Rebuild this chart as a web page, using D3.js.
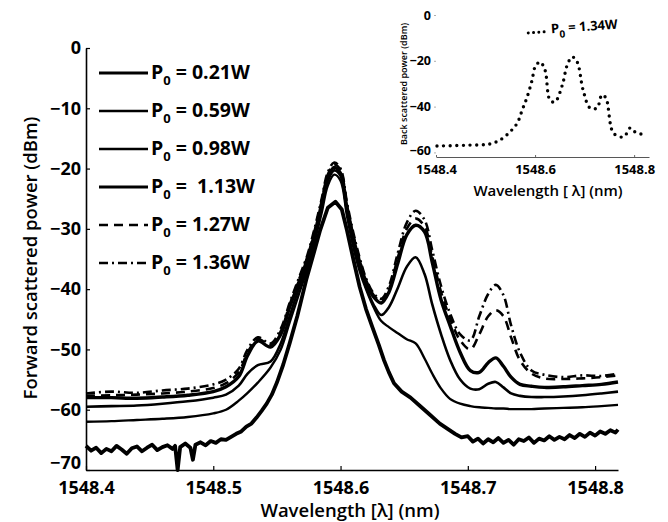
<!DOCTYPE html>
<html><head><meta charset="utf-8">
<script src="https://cdn.jsdelivr.net/npm/d3@7/dist/d3.min.js"></script>
<style>
body{margin:0;background:#fff}
svg text{font-family:"Open Sans",sans-serif;font-weight:700;fill:#000}
</style></head><body>
<svg id="c" width="668" height="522"></svg>
<script>
// ---- main chart data (wavelength in nm, power in dBm) ----
const wavelength = [1548.400,1548.420,1548.440,1548.460,1548.480,1548.500,1548.510,1548.520,1548.527,1548.535,1548.545,1548.553,1548.560,1548.567,1548.574,1548.580,1548.585,1548.590,1548.595,1548.600,1548.605,1548.610,1548.615,1548.620,1548.626,1548.632,1548.638,1548.645,1548.652,1548.659,1548.666,1548.672,1548.679,1548.686,1548.694,1548.702,1548.709,1548.716,1548.722,1548.728,1548.734,1548.741,1548.750,1548.760,1548.775,1548.790,1548.805,1548.818];
const p059 = [-62.0,-61.9,-61.7,-61.5,-61.2,-60.6,-60.0,-58.5,-57.2,-55.5,-53.0,-50.0,-45.5,-41.0,-36.5,-31.8,-27.5,-22.8,-21.0,-22.0,-27.8,-33.0,-37.0,-40.0,-43.0,-45.3,-46.3,-47.3,-48.3,-49.0,-51.5,-54.0,-56.5,-58.2,-59.0,-59.4,-59.6,-59.7,-59.8,-59.8,-59.9,-59.9,-59.9,-59.8,-59.7,-59.6,-59.4,-59.2];
const p098 = [-59.5,-59.4,-59.3,-59.0,-58.6,-58.0,-57.5,-56.0,-54.0,-52.6,-52.0,-49.0,-44.5,-40.0,-35.8,-31.0,-26.8,-22.0,-20.3,-21.2,-27.0,-32.0,-36.2,-39.6,-42.6,-44.3,-43.0,-39.8,-36.3,-34.7,-37.5,-42.5,-47.5,-51.7,-55.0,-56.5,-56.6,-55.7,-55.4,-56.3,-57.3,-57.7,-57.9,-57.9,-57.8,-57.6,-57.3,-57.0];
const p113 = [-58.0,-58.0,-58.1,-57.9,-57.6,-57.0,-56.2,-54.5,-51.0,-48.6,-49.6,-47.5,-43.0,-39.0,-35.0,-30.5,-26.0,-21.5,-19.8,-20.8,-26.5,-31.5,-35.5,-38.8,-41.3,-42.3,-40.5,-35.7,-31.0,-29.4,-30.5,-35.5,-41.8,-46.0,-50.5,-53.5,-53.8,-52.2,-51.4,-52.8,-54.6,-55.8,-56.1,-56.3,-56.2,-56.0,-55.8,-55.4];
const p127 = [-57.7,-57.6,-57.5,-57.3,-57.0,-56.4,-55.6,-53.8,-50.5,-48.3,-49.3,-47.0,-42.6,-38.6,-34.6,-30.0,-25.6,-21.0,-19.3,-20.3,-26.0,-31.0,-35.2,-38.5,-41.0,-42.0,-40.0,-34.8,-30.0,-28.3,-29.6,-34.5,-40.5,-44.8,-48.5,-50.0,-47.5,-44.5,-43.5,-44.5,-48.0,-51.8,-54.0,-54.8,-54.9,-54.8,-54.6,-54.3];
const p136 = [-57.3,-57.0,-57.2,-56.8,-56.5,-55.8,-55.0,-53.2,-50.0,-48.0,-49.0,-46.6,-42.3,-38.3,-34.3,-29.6,-25.2,-20.6,-19.0,-20.0,-25.6,-30.6,-34.8,-38.2,-40.7,-41.6,-39.5,-34.0,-29.0,-27.0,-28.5,-33.5,-39.5,-44.0,-47.5,-48.5,-44.5,-40.8,-39.3,-41.0,-46.0,-50.5,-53.5,-54.2,-54.6,-54.3,-54.4,-54.0];
// lowest power trace, noisy, read on its own finer grid
const wavelength021 = [1548.400,1548.404,1548.408,1548.412,1548.416,1548.420,1548.424,1548.428,1548.432,1548.436,1548.440,1548.444,1548.448,1548.452,1548.456,1548.460,1548.464,1548.468,1548.470,1548.472,1548.474,1548.478,1548.482,1548.484,1548.486,1548.490,1548.494,1548.498,1548.502,1548.506,1548.510,1548.514,1548.518,1548.522,1548.526,1548.530,1548.534,1548.538,1548.542,1548.546,1548.550,1548.555,1548.560,1548.566,1548.573,1548.579,1548.584,1548.590,1548.596,1548.601,1548.605,1548.610,1548.615,1548.620,1548.625,1548.630,1548.634,1548.638,1548.642,1548.648,1548.655,1548.662,1548.670,1548.678,1548.685,1548.690,1548.695,1548.700,1548.704,1548.708,1548.712,1548.716,1548.720,1548.724,1548.728,1548.732,1548.736,1548.740,1548.744,1548.748,1548.752,1548.756,1548.760,1548.764,1548.768,1548.772,1548.776,1548.780,1548.784,1548.788,1548.792,1548.796,1548.800,1548.804,1548.808,1548.812,1548.816,1548.818];
const p021 = [-66.0,-66.8,-66.3,-67.2,-66.5,-66.9,-66.0,-66.6,-67.3,-66.4,-66.1,-66.9,-66.3,-65.8,-66.7,-66.2,-65.9,-66.5,-66.0,-70.0,-66.2,-65.6,-66.3,-68.3,-65.8,-65.4,-65.9,-65.2,-65.5,-64.9,-65.0,-64.5,-64.0,-63.6,-62.8,-62.3,-61.3,-60.2,-59.0,-57.5,-55.5,-52.5,-49.0,-44.5,-38.5,-34.0,-30.2,-26.5,-25.5,-26.8,-30.2,-35.0,-39.6,-43.3,-46.3,-49.2,-51.7,-53.8,-55.6,-57.0,-58.0,-59.3,-60.8,-62.3,-63.3,-64.0,-64.6,-64.4,-65.3,-64.8,-65.6,-64.9,-65.4,-64.7,-65.5,-65.0,-65.8,-64.9,-65.2,-64.6,-65.5,-64.8,-65.1,-64.4,-65.0,-64.5,-64.9,-64.2,-64.7,-64.0,-64.5,-63.8,-64.3,-63.6,-64.0,-63.4,-63.8,-63.3];
const legendLabels = ["0.21W","0.59W","0.98W"," 1.13W","1.27W","1.36W"];
const yTicks = [0,-10,-20,-30,-40,-50,-60,-70];
const xTicks = [1548.4,1548.5,1548.6,1548.7,1548.8];

// ---- inset data (back scattered, P0 = 1.34W) ----
const insetWavelength = [1548.402,1548.469,1548.509,1548.529,1548.549,1548.564,1548.574,1548.584,1548.594,1548.600,1548.610,1548.620,1548.630,1548.640,1548.655,1548.665,1548.675,1548.685,1548.697,1548.711,1548.725,1548.735,1548.743,1548.758,1548.776,1548.784,1548.792,1548.802,1548.822];
const insetPower = [-57.2,-56.8,-56.3,-54.6,-51.1,-47.2,-41.5,-35.8,-28.4,-22.7,-20.5,-24.0,-37.1,-38.0,-30.6,-21.8,-18.3,-20.5,-32.8,-40.6,-40.6,-34.9,-36.2,-51.5,-53.3,-52.0,-49.3,-51.1,-52.4];
const insetYTicks = [0,-20,-40,-60];
const insetXTicks = [1548.4,1548.6,1548.8];

const svg = d3.select("#c");
const fmtY = d => d === 0 ? "0" : "\u2212" + Math.abs(d);

// ---- main scales ----
const x = d3.scaleLinear().domain([1548.4, 1548.818]).range([86, 618]);
const y = d3.scaleLinear().domain([-70, 0]).range([470, 48]);

const series = [
  {label: legendLabels[0], values: p021, xs: wavelength021, w: 3.8, dash: null, curve: d3.curveLinear},
  {label: legendLabels[1], values: p059, xs: wavelength, w: 2.4, dash: null, curve: d3.curveCatmullRom},
  {label: legendLabels[2], values: p098, xs: wavelength, w: 2.6, dash: null, curve: d3.curveCatmullRom},
  {label: legendLabels[3], values: p113, xs: wavelength, w: 3.4, dash: null, curve: d3.curveCatmullRom},
  {label: legendLabels[4], values: p127, xs: wavelength, w: 2.6, dash: "9,6", curve: d3.curveCatmullRom},
  {label: legendLabels[5], values: p136, xs: wavelength, w: 2.6, dash: "9,4,2,4", curve: d3.curveCatmullRom}
];

series.forEach(s => {
  const line = d3.line().x((d,i) => x(s.xs[i])).y(d => y(d)).curve(s.curve);
  svg.append("path").attr("d", line(s.values)).attr("fill","none")
    .attr("stroke","#000").attr("stroke-width", s.w)
    .attr("stroke-linejoin","round")
    .attr("stroke-dasharray", s.dash);
});

// axes
const gy = svg.append("g").attr("transform","translate(86,0)")
  .call(d3.axisLeft(y).tickValues(yTicks).tickFormat(fmtY).tickSizeInner(-4).tickSizeOuter(0).tickPadding(5));
const gx = svg.append("g").attr("transform","translate(0,470)")
  .call(d3.axisBottom(x).tickValues(xTicks).tickFormat(d3.format(".1f")).tickSizeInner(-4).tickSizeOuter(0).tickPadding(11));
[gy, gx].forEach(g => {
  g.select(".domain").attr("stroke","#000").attr("stroke-width",1.6);
  g.selectAll(".tick line").attr("stroke","#000").attr("stroke-width",1.2);
  g.selectAll(".tick text").style("font-size","18px").style("font-family","'Open Sans',sans-serif").style("font-weight",700).attr("fill","#000");
});
// lowest y label sits a little higher so it clears the x labels
gy.selectAll(".tick text").filter(d => d === -70).attr("dy","-0.1em");

svg.append("text").attr("transform","translate(32,258) rotate(-90)")
  .attr("text-anchor","middle").attr("dominant-baseline","middle")
  .style("font-size","18.5px").style("font-weight",600).text("Forward scattered power (dBm)");
svg.append("text").attr("x",350).attr("y",517).attr("text-anchor","middle")
  .style("font-size","18.5px").style("font-weight",600).text("Wavelength [\u03bb] (nm)");

// legend
const rowY = d3.scalePoint().domain(d3.range(series.length)).range([73, 263]);
const leg = svg.append("g");
series.forEach((s, i) => {
  const ly = rowY(i);
  leg.append("line").attr("x1",99).attr("x2",148).attr("y1",ly).attr("y2",ly)
    .attr("stroke","#000").attr("stroke-width", Math.min(s.w, 2.8)).attr("stroke-dasharray", s.dash);
  const t = leg.append("text").attr("x",151).attr("y",ly+6).style("font-size","19.5px").style("white-space","pre");
  t.append("tspan").text("P");
  t.append("tspan").attr("dy",6).style("font-size","13px").text("0");
  t.append("tspan").attr("dy",-6).text(" = " + s.label);
});

// ---- inset ----
const xi = d3.scaleLinear().domain([1548.4, 1548.83]).range([436, 649]);
const yi = d3.scaleLinear().domain([-62, 0]).range([157, 15]);
const insetLine = d3.line().x((d,i) => xi(insetWavelength[i])).y(d => yi(d)).curve(d3.curveCatmullRom);
svg.append("path").attr("d", insetLine(insetPower)).attr("fill","none").attr("stroke","#000")
  .attr("stroke-width",3.4).attr("stroke-linecap","round").attr("stroke-dasharray","0,6.6");

const giy = svg.append("g").attr("transform","translate(436,0)")
  .call(d3.axisLeft(yi).tickValues(insetYTicks).tickFormat(fmtY).tickSizeInner(2).tickSizeOuter(0).tickPadding(3));
giy.select(".domain").remove();
giy.selectAll(".tick line").attr("stroke","#999").attr("stroke-width",0.8);
giy.selectAll(".tick text").filter(d => d === -60).attr("dy","0.15em");
const gix = svg.append("g").attr("transform","translate(0,157)")
  .call(d3.axisBottom(xi).tickValues(insetXTicks).tickFormat(d3.format(".1f")).tickSizeInner(-2).tickSizeOuter(0).tickPadding(8));
gix.select(".domain").attr("stroke","#444").attr("stroke-width",0.9);
gix.selectAll(".tick line").attr("stroke","#666");
giy.selectAll(".tick text").style("font-size","12.5px");
gix.selectAll(".tick text").style("font-size","13px");
[giy, gix].forEach(g => g.selectAll(".tick text").style("font-family","'Open Sans',sans-serif").style("font-weight",700).attr("fill","#000"));

svg.append("text").attr("x",548).attr("y",196).attr("text-anchor","middle")
  .style("font-size","15px").style("font-weight",600).text("Wavelength [ \u03bb] (nm)");
svg.append("text").attr("transform","translate(405,84) rotate(-90)")
  .attr("text-anchor","middle").attr("dominant-baseline","middle")
  .style("font-size","9px").style("font-weight",600).text("Back scattered power (dBm)");

const il = svg.append("g").attr("transform","rotate(-4,570,28)");
il.append("line").attr("x1",528).attr("x2",549).attr("y1",30).attr("y2",30)
  .attr("stroke","#000").attr("stroke-width",3).attr("stroke-linecap","round").attr("stroke-dasharray","0,5.3");
const it = il.append("text").attr("x",551).attr("y",32).style("font-size","13px").style("white-space","pre");
it.append("tspan").text("P");
it.append("tspan").attr("dy",5).style("font-size","10px").text("0");
it.append("tspan").attr("dy",-5).text(" = 1.34W");
</script>
</body></html>
